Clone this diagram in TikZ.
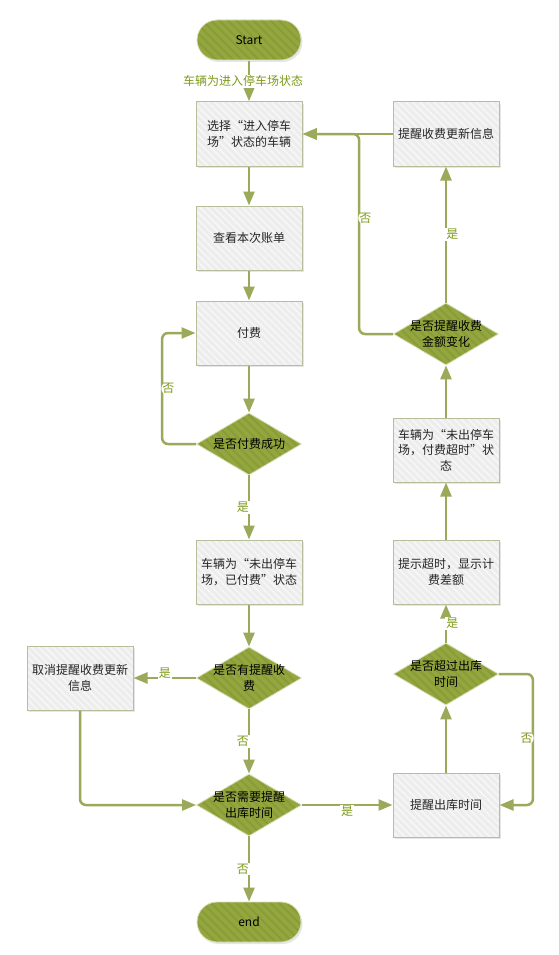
\documentclass[tikz,border=0pt]{standalone}
\usepackage{fontspec}
\setmainfont{Noto Sans CJK SC}
\usepackage{xcolor}
\usetikzlibrary{arrows.meta,shapes.geometric,shadows,patterns.meta}
\definecolor{flowgreen}{HTML}{94A63F}
\definecolor{stripegreen}{HTML}{8A9C36}
\definecolor{linegreen}{HTML}{9AAA5A}
\definecolor{labelgreen}{HTML}{7E9A1A}
\definecolor{boxgray}{HTML}{EDEDED}
\definecolor{boxline}{HTML}{B7BE9C}

\tikzset{
  basefont/.style={font=\fontsize{12}{15.5}\selectfont},
  procbox/.style={basefont, rectangle, draw=boxline, line width=1pt, text=black!85,
    drop shadow={shadow xshift=1.5pt,shadow yshift=-2pt,opacity=0.2},
    preaction={fill=boxgray}, pattern={Lines[angle=-45,distance=5pt,line width=1.5pt]},
    pattern color=white!55!boxgray, minimum width=106pt, minimum height=64pt,
    align=center, inner sep=2pt},
  decision/.style={diamond, draw=white!65!flowgreen, line width=0.8pt,
    preaction={fill=flowgreen}, pattern={Lines[angle=-45,distance=6pt,line width=2pt]},
    pattern color=stripegreen, minimum width=105pt, minimum height=62pt, inner sep=0pt},
  terminal/.style={basefont, rectangle, rounded corners=20pt, draw=white!65!flowgreen,
    line width=0.8pt, drop shadow={shadow xshift=1.5pt,shadow yshift=-2pt,opacity=0.2},
    preaction={fill=flowgreen}, pattern={Lines[angle=-45,distance=6pt,line width=2pt]},
    pattern color=stripegreen, minimum width=104pt, minimum height=40pt},
  flowline/.style={draw=linegreen, line width=2.5pt, -{Triangle[length=14pt,width=11pt]}},
  lbl/.style={basefont, text=labelgreen, fill=white, inner sep=1pt},
}

\begin{document}
\begin{tikzpicture}[x=1pt,y=-1pt]
  \useasboundingbox (0,0) rectangle (559,955);

  \node[terminal] (start) at (249,40) {Start};
  \node[procbox] (b1) at (249,134) {选择“进入停车\\场”状态的车辆};
  \node[procbox] (b2) at (249,238) {查看本次账单};
  \node[procbox] (b3) at (249,333) {付费};
  \node[decision, label={[basefont,align=center]center:是否付费成功}] (d1) at (249,444) {};
  \node[procbox] (b4) at (249,572) {车辆为“未出停车\\场，已付费”状态};
  \node[decision, label={[basefont,align=center]center:是否有提醒收\\费}] (d2) at (249,678) {};
  \node[procbox] (b5) at (80,678) {取消提醒收费更新\\信息};
  \node[decision, label={[basefont,align=center]center:是否需要提醒\\出库时间}] (d3) at (249,805) {};
  \node[terminal] (endn) at (249,922) {end};

  \node[procbox] (b6) at (446,805) {提醒出库时间};
  \node[decision, label={[basefont,align=center]center:是否超过出库\\时间}] (d4) at (446,674) {};
  \node[procbox] (b7) at (446,572) {提示超时，显示计\\费差额};
  \node[procbox] (b8) at (446,450) {车辆为“未出停车\\场，付费超时”状\\态};
  \node[decision, label={[basefont,align=center]center:是否提醒收费\\金额变化}] (d5) at (446,334) {};
  \node[procbox] (b9) at (446,134) {提醒收费更新信息};

  \draw[flowline] (start) -- node[lbl, xshift=-6pt] {车辆为进入停车场状态} (b1);
  \draw[flowline] (b1) -- (b2);
  \draw[flowline] (b2) -- (b3);
  \draw[flowline] (b3) -- (d1);
  \draw[flowline, rounded corners=6pt] (d1.west) -- ++(-34,0) |- node[lbl, pos=0.25, anchor=west, xshift=-2pt] {否} (b3.west);
  \draw[flowline] (d1) -- node[lbl, anchor=east, xshift=2pt] {是} (b4);
  \draw[flowline] (b4) -- (d2);
  \draw[flowline] (d2) -- node[lbl, anchor=south, yshift=-3pt] {是} (b5);
  \draw[flowline] (d2) -- node[lbl, anchor=east, xshift=2pt] {否} (d3);
  \draw[flowline, rounded corners=6pt] (b5.south) |- (d3.west);
  \draw[flowline] (d3) -- node[lbl, anchor=east, xshift=2pt] {否} (endn);
  \draw[flowline] (d3) -- node[lbl, anchor=north, yshift=1pt] {是} (b6);

  \draw[flowline] (b6) -- (d4);
  \draw[flowline, rounded corners=6pt] (d4.east) -- ++(34,0) |- node[lbl, pos=0.245, anchor=east, xshift=2pt] {否} (b6.east);
  \draw[flowline] (d4) -- node[lbl, anchor=west, xshift=-2pt] {是} (b7);
  \draw[flowline] (b7) -- (b8);
  \draw[flowline] (b8) -- (d5);
  \draw[flowline] (d5) -- node[lbl, anchor=west, xshift=-2pt] {是} (b9);
  \draw[flowline] (b9) -- (b1);
  \draw[flowline, rounded corners=6pt] (d5.west) -- ++(-34,0) |- node[lbl, pos=0.29, anchor=west, xshift=-2pt] {否} (b1.east);
\end{tikzpicture}
\end{document}
